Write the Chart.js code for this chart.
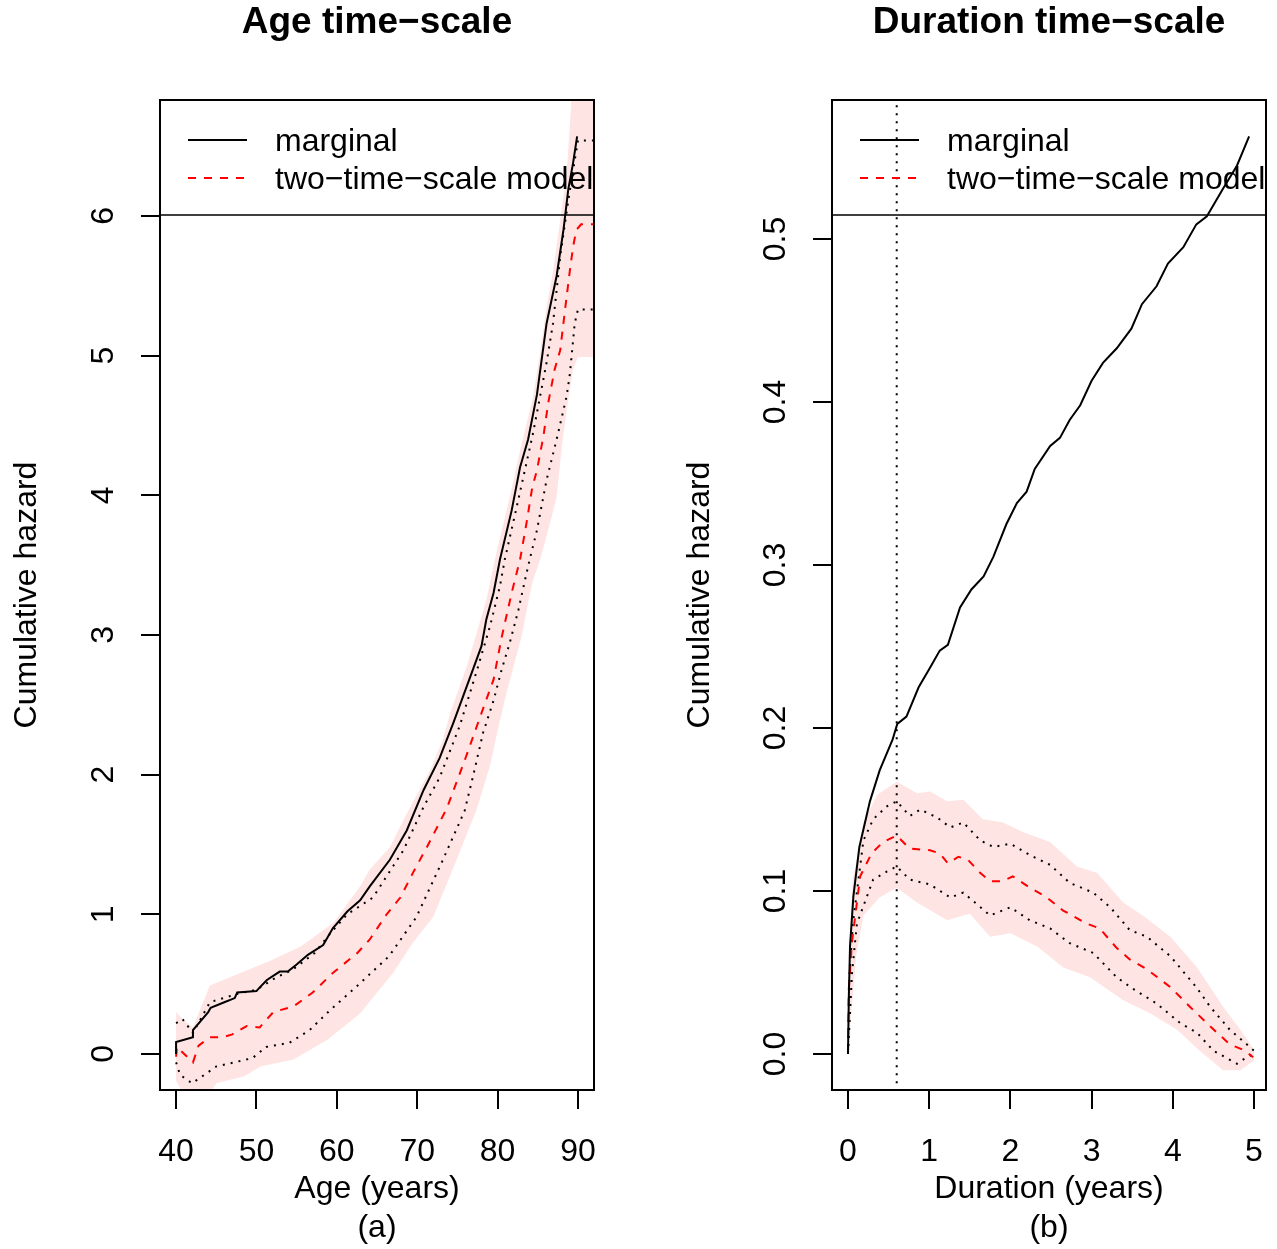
<!DOCTYPE html>
<html>
<head>
<meta charset="utf-8">
<script src="https://cdn.jsdelivr.net/npm/chart.js@4.4.1/dist/chart.umd.min.js"></script>
<style>
  body { margin: 0; background: #fff; }
  #wrap { position: relative; width: 1277px; height: 1249px; }
  canvas { position: absolute; top: 0; }
</style>
</head>
<body>
<div id="wrap">
  <canvas id="ageChart" width="638" height="1249" style="left:0"></canvas>
  <canvas id="durChart" width="639" height="1249" style="left:638px"></canvas>
</div>
<script>
// ---- tick labels ----
const ageTicks = [40, 50, 60, 70, 80, 90];
const ageHazTicks = [0, 1, 2, 3, 4, 5, 6];
const durTicks = [0, 1, 2, 3, 4, 5];
const durHazTicks = [0, 0.1, 0.2, 0.3, 0.4, 0.5];

// ---- age time-scale, [age, cumulative hazard] ----
const ageMarginal = [[40,0],[40,0.086],[42.1,0.12],[42.1,0.17],[44,0.30],[44.3,0.33],[46,0.37],[47.3,0.40],[47.6,0.44],[50,0.45],[50.3,0.47],[51.3,0.53],[52.9,0.59],[53.9,0.59],[55,0.64],[56.4,0.71],[58.3,0.78],[59.5,0.90],[61.3,1.02],[62.9,1.10],[64.1,1.20],[66.6,1.39],[68.7,1.60],[70.8,1.89],[72.8,2.12],[74.5,2.37],[76.6,2.70],[78.0,2.92],[78.6,3.11],[79.5,3.30],[80.3,3.54],[81.75,3.89],[82.8,4.20],[83.8,4.40],[84.9,4.72],[86.1,5.23],[87.35,5.57],[88.2,5.90],[88.8,6.19],[89.4,6.38],[89.9,6.57]];
const ageModel = [[40,-0.02],[40.1,0.05],[42.1,-0.06],[42.8,0.06],[44.2,0.12],[45.8,0.12],[47,0.14],[48.8,0.20],[50.4,0.19],[52.1,0.30],[54.6,0.34],[57.0,0.44],[59.5,0.58],[62.5,0.72],[64.1,0.82],[66.2,1.00],[67.9,1.12],[69.5,1.30],[71.2,1.48],[73.7,1.76],[75.9,2.10],[78.0,2.44],[79.5,2.68],[80.5,2.98],[81.75,3.30],[82.8,3.54],[83.6,3.80],[84.3,4.05],[84.9,4.18],[85.7,4.42],[86.3,4.66],[87.1,4.90],[87.8,5.04],[88.4,5.33],[89.0,5.61],[89.4,5.78],[89.8,5.90],[90.4,5.94],[92,5.94]];
const ageUpper = [[40,0.22],[40.8,0.25],[42.1,0.15],[44.2,0.37],[47.6,0.43],[50,0.46],[52.5,0.55],[54.4,0.60],[57.2,0.72],[59,0.85],[61.3,1.00],[64.5,1.12],[68.3,1.46],[70.8,1.77],[72.8,1.98],[75.3,2.35],[77.4,2.74],[79.05,3.06],[80.3,3.35],[80.9,3.54],[82.2,3.87],[83.4,4.18],[84.4,4.44],[85.3,4.71],[86.1,4.95],[86.9,5.23],[87.8,5.71],[88.8,6.11],[90.0,6.54],[92,6.54]];
const ageLower = [[40,-0.06],[40.5,-0.15],[42,-0.21],[45,-0.09],[49.5,-0.03],[51.2,0.05],[54.1,0.08],[56.6,0.17],[59.1,0.31],[62.4,0.48],[66.5,0.70],[69.9,0.98],[73.2,1.39],[75.9,1.74],[77.0,2.00],[78.2,2.30],[79.5,2.53],[80.5,2.75],[81.5,2.94],[82.6,3.18],[83.4,3.39],[84.0,3.54],[84.9,3.75],[86.1,4.11],[87.35,4.40],[88.6,4.71],[89.0,4.87],[89.6,5.23],[90.0,5.33],[92,5.33]];
const ageBandHi = [[40,0.30],[40.8,0.25],[42.1,0.19],[44.2,0.49],[48,0.58],[51.8,0.67],[55.5,0.77],[59.6,0.94],[62.9,1.20],[64.1,1.32],[66.6,1.48],[68.7,1.72],[71.6,2.03],[73.2,2.25],[74.1,2.44],[76.2,2.78],[78.6,3.25],[79.9,3.60],[81.5,3.98],[82.8,4.32],[84.4,4.70],[85.3,5.02],[86.1,5.35],[86.9,5.60],[88.6,6.30],[89.6,7.2],[92,7.2]];
const ageBandLo = [[40,-0.19],[41,-0.30],[44,-0.30],[45,-0.21],[48.5,-0.16],[50.5,-0.09],[54.6,-0.04],[58.8,0.10],[62.9,0.29],[67,0.58],[69.5,0.80],[72.0,0.98],[74.9,1.39],[77.4,1.75],[79.05,2.06],[80.1,2.34],[81.1,2.58],[82.2,2.82],[83.0,2.99],[83.8,3.23],[84.4,3.39],[85.3,3.54],[86.3,3.75],[87.35,3.99],[88.0,4.35],[88.6,4.61],[89.4,4.90],[90.0,4.99],[92,4.99]];

// ---- duration time-scale, [years, cumulative hazard] ----
const durMarginal = [[0,0],[0.01,0.035],[0.025,0.066],[0.066,0.0965],[0.14,0.127],[0.27,0.155],[0.39,0.174],[0.55,0.193],[0.607,0.2025],[0.72,0.207],[0.87,0.225],[1.01,0.237],[1.13,0.2475],[1.23,0.251],[1.38,0.274],[1.52,0.285],[1.67,0.293],[1.79,0.305],[1.95,0.325],[2.08,0.338],[2.20,0.345],[2.30,0.359],[2.49,0.373],[2.61,0.378],[2.73,0.389],[2.86,0.398],[3.0,0.413],[3.14,0.424],[3.31,0.433],[3.49,0.445],[3.62,0.460],[3.80,0.471],[3.94,0.485],[4.13,0.495],[4.29,0.509],[4.42,0.514],[4.62,0.531],[4.79,0.545],[4.94,0.563]];
const durModel = [[0,0],[0.01,0.04],[0.05,0.069],[0.15,0.109],[0.29,0.123],[0.43,0.130],[0.6,0.134],[0.76,0.126],[1.01,0.125],[1.13,0.123],[1.23,0.117],[1.36,0.121],[1.48,0.119],[1.63,0.111],[1.75,0.106],[1.9,0.106],[2.03,0.109],[2.24,0.102],[2.45,0.096],[2.65,0.088],[2.94,0.080],[3.10,0.077],[3.31,0.065],[3.47,0.058],[3.68,0.052],[3.97,0.041],[4.21,0.029],[4.46,0.017],[4.7,0.006],[4.89,0.002],[4.99,-0.002]];
const durUpper = [[0,0],[0.02,0.05],[0.06,0.08],[0.19,0.131],[0.31,0.144],[0.48,0.152],[0.6,0.155],[0.76,0.146],[0.89,0.150],[1.1,0.145],[1.26,0.139],[1.42,0.142],[1.63,0.131],[1.79,0.127],[2.0,0.129],[2.24,0.122],[2.49,0.116],[2.73,0.105],[3.02,0.099],[3.23,0.090],[3.47,0.076],[3.68,0.072],[3.97,0.060],[4.29,0.041],[4.46,0.029],[4.7,0.015],[4.91,0.006],[5.0,0.002]];
const durLower = [[0,0],[0.05,0.05],[0.11,0.08],[0.31,0.107],[0.48,0.112],[0.6,0.115],[0.76,0.107],[1.01,0.104],[1.26,0.096],[1.42,0.099],[1.75,0.085],[2.0,0.090],[2.24,0.082],[2.49,0.077],[2.73,0.068],[3.02,0.062],[3.31,0.047],[3.51,0.040],[3.8,0.031],[4.09,0.019],[4.3,0.013],[4.5,0.002],[4.79,-0.006],[4.91,-0.002],[5.0,0]];
const durBandHi = [[0,0],[0.03,0.08],[0.06,0.107],[0.19,0.142],[0.36,0.159],[0.6,0.167],[0.85,0.160],[1.01,0.161],[1.22,0.155],[1.42,0.156],[1.66,0.144],[1.91,0.142],[2.16,0.136],[2.49,0.130],[2.82,0.115],[3.07,0.111],[3.39,0.093],[3.63,0.085],[3.97,0.072],[4.3,0.053],[4.62,0.029],[4.83,0.015],[5.01,0.002]];
const durBandLo = [[0,0],[0.05,0.03],[0.1,0.06],[0.19,0.085],[0.39,0.096],[0.6,0.102],[0.85,0.093],[1.22,0.082],[1.5,0.086],[1.75,0.072],[2.0,0.074],[2.33,0.066],[2.65,0.053],[2.98,0.047],[3.39,0.033],[3.72,0.025],[4.05,0.015],[4.33,0.002],[4.62,-0.010],[4.83,-0.010],[5.0,-0.004]];
const durCut = [[0.6,-0.018],[0.6,0.6]];

const FONT = '"Liberation Sans", Arial, Helvetica, sans-serif';
const PINK = 'rgb(255,228,228)';
Chart.defaults.font.family = FONT;
Chart.defaults.color = '#000';

const xy = a => a.map(p => ({x: p[0], y: p[1]}));

// legend box, frame and main title, drawn the way base R does it
const frame = {
  id: 'frame',
  afterDatasetsDraw(chart, args, opts) {
    const {ctx, chartArea: a} = chart;
    const sets = chart.data.datasets;
    ctx.save();
    ctx.beginPath();
    ctx.rect(a.left, a.top, a.right - a.left, a.bottom - a.top);
    ctx.clip();
    ctx.lineWidth = 1.5;
    ctx.strokeStyle = '#000';
    ctx.strokeRect(a.left, a.top, 600, 115);
    ctx.restore();

    ctx.save();
    ctx.font = '32px ' + FONT;
    ctx.textBaseline = 'middle';
    ctx.fillStyle = '#000';
    [0, 1].forEach(i => {
      const ds = sets[i];
      const y = a.top + 40 + i * 38;
      ctx.beginPath();
      ctx.setLineDash(ds.borderDash || []);
      ctx.lineWidth = 2;
      ctx.strokeStyle = ds.borderColor;
      ctx.moveTo(a.left + 28, y);
      ctx.lineTo(a.left + 87, y);
      ctx.stroke();
      ctx.setLineDash([]);
      ctx.fillText(ds.label, a.left + 115, y + 2);
    });
    ctx.lineWidth = 2;
    ctx.strokeStyle = '#000';
    ctx.strokeRect(a.left, a.top, a.right - a.left, a.bottom - a.top);
    ctx.font = 'bold 37px ' + FONT;
    ctx.textAlign = 'center';
    ctx.fillText(opts.title, (a.left + a.right) / 2, 23);
    ctx.restore();
  }
};

function panel(id, p) {
  const sets = [
    {label: 'marginal', data: xy(p.marginal), borderColor: '#000', borderWidth: 2},
    {label: 'two\u2212time\u2212scale model', data: xy(p.model), borderColor: '#ff0000', borderWidth: 2, borderDash: [8, 8]},
    {label: 'upper', data: xy(p.upper), borderColor: '#000', borderWidth: 2, borderDash: [2, 6]},
    {label: 'lower', data: xy(p.lower), borderColor: '#000', borderWidth: 2, borderDash: [2, 6]}
  ];
  if (p.cut) sets.push({label: 'cut', data: xy(p.cut), borderColor: '#000', borderWidth: 2, borderDash: [2, 6]});
  sets.push({label: 'band', data: xy(p.bandHi), fill: '+1', backgroundColor: PINK, borderColor: 'rgba(0,0,0,0)', borderWidth: 0});
  sets.push({label: 'bandLo', data: xy(p.bandLo), fill: false, borderColor: 'rgba(0,0,0,0)', borderWidth: 0});

  const tickGrid = {display: true, drawOnChartArea: false, drawTicks: true, tickLength: 19, color: '#000', lineWidth: 2};

  return new Chart(document.getElementById(id), {
    type: 'line',
    data: {datasets: sets},
    options: {
      responsive: false,
      animation: false,
      devicePixelRatio: 1,
      layout: {padding: {top: 100, right: p.rightPad, bottom: 0, left: 0}},
      elements: {point: {radius: 0}, line: {tension: 0, borderCapStyle: 'butt'}},
      plugins: {legend: {display: false}, tooltip: {enabled: false}, frame: {title: p.title}},
      scales: {
        x: {
          type: 'linear', min: p.xMin, max: p.xMax,
          afterBuildTicks: s => { s.ticks = p.xTicks.map(v => ({value: v})); },
          afterFit: s => { s.height = 159; s.paddingLeft = 0; s.paddingRight = 0; },
          ticks: {font: {size: 32}, padding: 24, maxRotation: 0, callback: v => String(v)},
          grid: tickGrid,
          border: {display: false},
          title: {display: true, text: p.xTitle, font: {size: 32}, padding: {top: 0, bottom: 2}}
        },
        y: {
          type: 'linear', min: p.yMin, max: p.yMax,
          afterBuildTicks: s => { s.ticks = p.yTicks.map(v => ({value: v})); },
          afterFit: s => { s.width = p.yWidth; },
          ticks: {font: {size: 32}, padding: p.yTickPad, minRotation: 90, maxRotation: 90, crossAlign: 'center',
                  callback: v => v.toFixed(p.yDigits)},
          grid: tickGrid,
          border: {display: false},
          title: {display: true, text: 'Cumulative hazard', font: {size: 32}, padding: {top: p.yTitlePad, bottom: 0}}
        }
      }
    },
    plugins: [frame]
  });
}

panel('ageChart', {
  title: 'Age time\u2212scale', xTitle: ['Age (years)', '(a)'],
  marginal: ageMarginal, model: ageModel, upper: ageUpper, lower: ageLower,
  bandHi: ageBandHi, bandLo: ageBandLo,
  xTicks: ageTicks, yTicks: ageHazTicks, yDigits: 0,
  xMin: 38.0, xMax: 92.0, yMin: -0.258, yMax: 6.83,
  yWidth: 160, yTickPad: 28, yTitlePad: 8, rightPad: 44
});

panel('durChart', {
  title: 'Duration time\u2212scale', xTitle: ['Duration (years)', '(b)'],
  marginal: durMarginal, model: durModel, upper: durUpper, lower: durLower,
  bandHi: durBandHi, bandLo: durBandLo, cut: durCut,
  xTicks: durTicks, yTicks: durHazTicks, yDigits: 1,
  xMin: -0.197, xMax: 5.148, yMin: -0.0221, yMax: 0.5853,
  yWidth: 194, yTickPad: 15, yTitlePad: 43, rightPad: 11
});
</script>
</body>
</html>
